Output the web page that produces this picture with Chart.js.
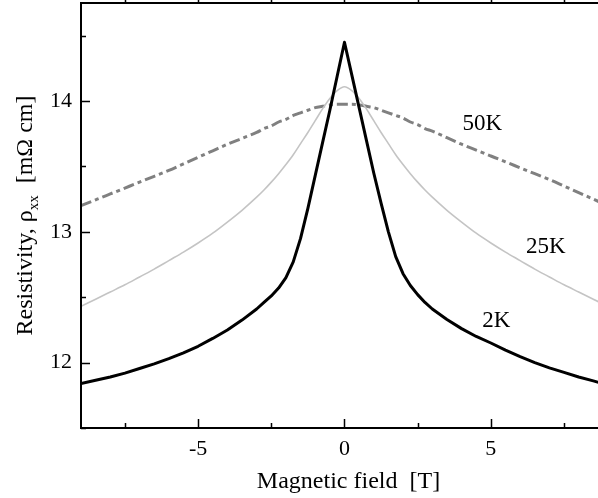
<!DOCTYPE html>
<html>
<head>
<meta charset="utf-8">
<title>Resistivity vs field</title>
<style>
  html, body { margin: 0; padding: 0; background: #fff; }
  #wrap { width: 598px; height: 498px; }
</style>
<script src="https://cdn.jsdelivr.net/npm/chart.js@4/dist/chart.umd.min.js"></script>
</head>
<body>
<div id="wrap"><canvas id="rxx" width="598" height="498"></canvas></div>
<script>
// field sweep (T) shared by all three temperatures, denser around zero
const fieldT = [-9, -8.5, -8, -7.5, -7, -6.5, -6, -5.5, -5, -4.5, -4, -3.5, -3,
  -2.75, -2.5, -2.25, -2, -1.75, -1.5, -1.25, -1, -0.75, -0.5, -0.25, 0, 0.25, 0.5, 0.75, 1, 1.25, 1.5, 1.75, 2, 2.25, 2.5, 2.75,
  3, 3.5, 4, 4.5, 5, 5.5, 6, 6.5, 7, 7.5, 8, 8.5, 9];

// rho_xx in mOhm cm
const rho2K = [11.84, 11.865, 11.89, 11.92, 11.955, 11.99, 12.03, 12.075, 12.125, 12.185, 12.25, 12.325, 12.41,
  12.46, 12.51, 12.57, 12.65, 12.77, 12.95, 13.18, 13.43, 13.68, 13.93, 14.19, 14.45, 14.20, 13.95, 13.70, 13.45, 13.22, 13.00, 12.81, 12.68, 12.59, 12.52, 12.46,
  12.41, 12.33, 12.26, 12.20, 12.15, 12.095, 12.045, 12.00, 11.96, 11.925, 11.89, 11.86, 11.83];
const rho25K = [12.43, 12.485, 12.54, 12.595, 12.655, 12.715, 12.78, 12.845, 12.915, 12.99, 13.075, 13.165, 13.265,
  13.32, 13.38, 13.445, 13.515, 13.59, 13.675, 13.76, 13.85, 13.94, 14.02, 14.08, 14.11, 14.08, 14.02, 13.94, 13.85, 13.76, 13.675, 13.59, 13.515, 13.445, 13.38, 13.32,
  13.265, 13.165, 13.075, 12.99, 12.915, 12.845, 12.78, 12.715, 12.655, 12.595, 12.54, 12.485, 12.43];
const rho50K = [13.20, 13.245, 13.29, 13.335, 13.38, 13.425, 13.47, 13.52, 13.57, 13.62, 13.67, 13.715, 13.76,
  13.79, 13.81, 13.84, 13.86, 13.89, 13.91, 13.93, 13.95, 13.96, 13.97, 13.975, 13.975, 13.975, 13.97, 13.96, 13.95, 13.93, 13.91, 13.89, 13.87, 13.84, 13.82, 13.79,
  13.77, 13.72, 13.67, 13.625, 13.58, 13.535, 13.49, 13.445, 13.40, 13.35, 13.30, 13.25, 13.20];

const tempLabels = ['2K', '25K', '50K'];

const xTicks = [-5, 0, 5];
const xMinorTicks = [-7.5, -2.5, 2.5, 7.5];
const yTicks = [12, 13, 14];
const yMinorTicks = [11.5, 12.5, 13.5, 14.5];

const SERIF = "'Liberation Serif', 'Times New Roman', serif";

function pts(ys) {
  return fieldT.map((x, i) => ({ x: x, y: ys[i] }));
}

// frame, inward ticks, axis titles and curve labels
const decor = {
  id: 'decor',
  afterDraw(chart) {
    const { ctx, chartArea: a, scales: { x, y } } = chart;
    ctx.save();
    ctx.strokeStyle = '#000';
    ctx.lineWidth = 2;
    ctx.beginPath();
    ctx.moveTo(a.right, a.top); ctx.lineTo(a.left, a.top);
    ctx.lineTo(a.left, a.bottom); ctx.lineTo(a.right, a.bottom);
    ctx.stroke();

    ctx.lineWidth = 1.5;
    ctx.beginPath();
    const xt = (v, len) => {
      const px = Math.round(x.getPixelForValue(v)) + 0.5;
      ctx.moveTo(px, a.bottom); ctx.lineTo(px, a.bottom - len);
      ctx.moveTo(px, a.top); ctx.lineTo(px, a.top - len);
    };
    const yt = (v, len) => {
      const py = Math.round(y.getPixelForValue(v)) + 0.5;
      ctx.moveTo(a.left, py); ctx.lineTo(a.left + len, py);
    };
    xTicks.forEach(v => xt(v, 9));
    xMinorTicks.forEach(v => xt(v, 5));
    yTicks.forEach(v => yt(v, 9));
    yMinorTicks.forEach(v => yt(v, 5));
    ctx.stroke();

    ctx.fillStyle = '#000';
    ctx.textBaseline = 'alphabetic';

    // x title
    ctx.font = '24px ' + SERIF;
    ctx.textAlign = 'center';
    ctx.fillText('Magnetic field  [T]', (a.left + a.right) / 2 + 9, 488);

    // y title with subscript, rotated
    const parts = [
      { t: 'Resistivity, \u03c1', f: '24px ' + SERIF, dy: 0 },
      { t: 'xx', f: '15px ' + SERIF, dy: 6 },
      { t: '  [m\u03a9 cm]', f: '24px ' + SERIF, dy: 0 }
    ];
    let total = 0;
    parts.forEach(p => { ctx.font = p.f; p.w = ctx.measureText(p.t).width; total += p.w; });
    ctx.translate(32, (a.top + a.bottom) / 2);
    ctx.rotate(-Math.PI / 2);
    ctx.textAlign = 'left';
    let u = -total / 2;
    parts.forEach(p => { ctx.font = p.f; ctx.fillText(p.t, u, p.dy); u += p.w; });
    ctx.setTransform(1, 0, 0, 1, 0, 0);

    // temperature labels next to each curve
    const spots = [[5.19, 12.272], [6.88, 12.837], [4.71, 13.776]];
    ctx.font = '23px ' + SERIF;
    ctx.textAlign = 'center';
    tempLabels.forEach((t, i) => {
      ctx.fillText(t, x.getPixelForValue(spots[i][0]), y.getPixelForValue(spots[i][1]));
    });
    ctx.restore();
  }
};

Chart.defaults.font.family = SERIF;
Chart.defaults.color = '#000';

new Chart(document.getElementById('rxx'), {
  type: 'line',
  data: {
    datasets: [
      { label: tempLabels[0], data: pts(rho2K), borderColor: '#000', borderWidth: 3, tension: 0, borderJoinStyle: 'round' },
      { label: tempLabels[1], data: pts(rho25K), borderColor: '#c4c4c4', borderWidth: 1.6, cubicInterpolationMode: 'monotone' },
      { label: tempLabels[2], data: pts(rho50K), borderColor: '#808080', borderWidth: 3, borderDash: [11, 4, 4, 4], cubicInterpolationMode: 'monotone' }
    ]
  },
  options: {
    responsive: false,
    animation: false,
    devicePixelRatio: 1,
    layout: { padding: { top: 3, right: 0, left: 0, bottom: 0 } },
    elements: { point: { radius: 0 } },
    plugins: { legend: { display: false }, tooltip: { enabled: false } },
    scales: {
      x: {
        type: 'linear', min: -9, max: 8.66,
        afterBuildTicks: s => { s.ticks = xTicks.map(v => ({ value: v })); },
        afterFit: s => { s.height = 70; s.paddingLeft = 0; s.paddingRight = 0; },
        grid: { display: false, drawTicks: false },
        border: { display: false },
        ticks: { padding: 8, font: { size: 22 }, maxRotation: 0 }
      },
      y: {
        type: 'linear', min: 11.5, max: 14.75,
        afterBuildTicks: s => { s.ticks = yTicks.map(v => ({ value: v })); },
        afterFit: s => { s.width = 81; s.paddingTop = 0; s.paddingBottom = 0; },
        grid: { display: false, drawTicks: false },
        border: { display: false },
        ticks: { padding: 9, font: { size: 22 } }
      }
    }
  },
  plugins: [decor]
});
</script>
</body>
</html>
